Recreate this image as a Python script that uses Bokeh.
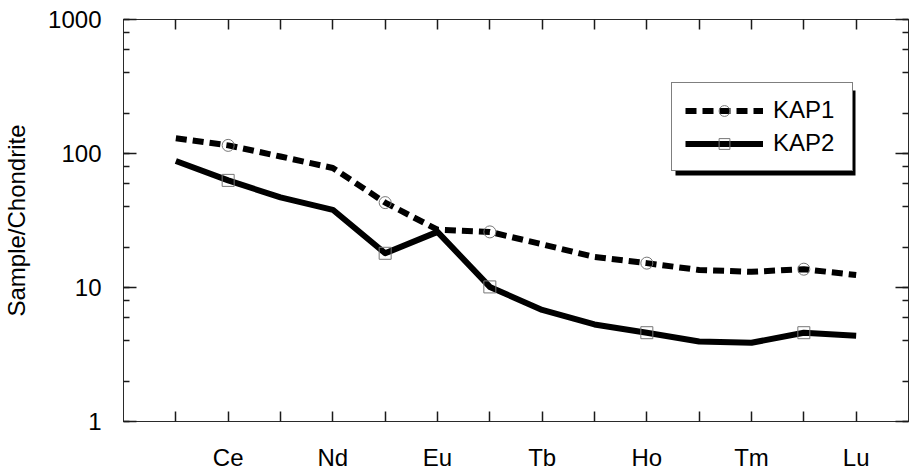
from bokeh.plotting import figure
from bokeh.models import (Range1d, FixedTicker, LogTicker, LinearAxis, LogAxis,
                          Legend, LegendItem, BasicTickFormatter, BoxAnnotation)
from bokeh.embed import file_html
from bokeh.resources import INLINE

# ---- data ----
elements = ["La", "Ce", "Pr", "Nd", "Sm", "Eu", "Gd", "Tb", "Dy", "Ho", "Er", "Tm", "Yb", "Lu"]
kap1 = [130, 115, 95, 78, 43, 27, 26, 21, 16.9, 15.2, 13.5, 13.1, 13.7, 12.4]
kap2 = [88, 63, 47, 38, 18, 26, 10.1, 6.8, 5.3, 4.6, 3.95, 3.87, 4.6, 4.37]
labeled = ["Ce", "Nd", "Eu", "Tb", "Ho", "Tm", "Lu"]
marker_elements = ["Ce", "Sm", "Gd", "Ho", "Yb"]
y_ticks = [1, 10, 100, 1000]

FONT = "Liberation Sans"
AX = "#2a2a2a"
TK = "#1a1a1a"

x = list(range(len(elements)))
mi = [elements.index(e) for e in marker_elements]
mx = [x[i] for i in mi]
m1 = [kap1[i] for i in mi]
m2 = [kap2[i] for i in mi]

p = figure(width=915, height=473, y_axis_type="log",
           x_range=Range1d(-1, len(elements)), y_range=Range1d(1, 1000),
           output_backend="svg", toolbar_location=None,
           min_border_left=123, min_border_right=7, min_border_top=19,
           min_border_bottom=51)
p.xgrid.visible = False
p.ygrid.visible = False
p.outline_line_color = AX
p.background_fill_color = "white"

# bottom axis
xa = p.xaxis[0]
xa.ticker = FixedTicker(ticks=x)
xa.major_label_overrides = {i: (e if e in labeled else "") for i, e in enumerate(elements)}
xa.major_tick_in = 10
xa.major_tick_out = 0
xa.minor_tick_in = 0
xa.minor_tick_out = 0
xa.axis_line_color = AX
xa.major_tick_line_color = TK
xa.major_tick_line_width = 1.5
xa.major_label_text_font = FONT
xa.major_label_text_font_size = "24px"
xa.major_label_text_color = "black"
xa.major_label_standoff = 22

# left axis
ya = p.yaxis[0]
ya.ticker = LogTicker()
ya.formatter = BasicTickFormatter(use_scientific=False)
ya.major_label_overrides = {v: str(v) for v in y_ticks}
ya.major_tick_in = 13
ya.major_tick_out = 0
ya.minor_tick_in = 6
ya.minor_tick_out = 0
ya.axis_line_color = AX
ya.major_tick_line_color = TK
ya.minor_tick_line_color = TK
ya.major_tick_line_width = 1.5
ya.minor_tick_line_width = 1.5
ya.major_label_text_font = FONT
ya.major_label_text_font_size = "24px"
ya.major_label_text_color = "black"
ya.major_label_standoff = 22
ya.axis_label = "Sample/Chondrite"
ya.axis_label_text_font = FONT
ya.axis_label_text_font_size = "24px"
ya.axis_label_text_font_style = "normal"
ya.axis_label_text_color = "black"
ya.axis_label_standoff = 15

# top axis (ticks only)
top = LinearAxis(ticker=FixedTicker(ticks=x),
                 major_label_overrides={i: "" for i in x},
                 major_label_text_font_size="0px", major_label_standoff=0,
                 major_tick_in=10, major_tick_out=0, minor_tick_in=0, minor_tick_out=0,
                 axis_line_color=AX, major_tick_line_color=TK, major_tick_line_width=1.5)
p.add_layout(top, "above")

# right axis (ticks only)
right = LogAxis(ticker=LogTicker(),
                major_label_overrides={v: "" for v in y_ticks},
                major_label_text_font_size="0px", major_label_standoff=0,
                major_tick_in=13, major_tick_out=0, minor_tick_in=6, minor_tick_out=0,
                axis_line_color=AX, major_tick_line_color=TK, minor_tick_line_color=TK,
                major_tick_line_width=1.5, minor_tick_line_width=1.5)
p.add_layout(right, "right")

# series
l1 = p.line(x, kap1, line_width=6, line_dash="11 6", color="black")
l2 = p.line(x, kap2, line_width=6, color="black", line_join="round")
c1 = p.scatter(mx, m1, marker="circle", size=12, fill_color=None,
               line_color="#777777", line_width=1)
s2 = p.scatter(mx, m2, marker="square", size=12, fill_color=None,
               line_color="#777777", line_width=1)

items = [LegendItem(label="KAP1", renderers=[l1, c1]),
         LegendItem(label="KAP2", renderers=[l2, s2])]

# legend geometry (screen px, relative to the frame's bottom-left)
LX, LY = 548, 250
PAD, GW, GH, STAND, LW, SP = 13, 78, 27, 10, 66, 5
LEG_W = 2 * PAD + GW + STAND + LW
LEG_H = 2 * PAD + 2 * GH + SP
SH = 4

shadow = BoxAnnotation(left=LX + SH, right=LX + LEG_W + SH,
                       bottom=LY - SH, top=LY + LEG_H - SH,
                       left_units="screen", right_units="screen",
                       top_units="screen", bottom_units="screen",
                       fill_color="black", fill_alpha=1.0, line_color=None)
p.add_layout(shadow)

leg = Legend(items=items, location=(LX, LY),
             label_text_font=FONT, label_text_font_size="24px",
             glyph_width=GW, glyph_height=GH, label_height=GH, label_width=LW,
             spacing=SP, padding=PAD, label_standoff=STAND, margin=0,
             background_fill_color="white", background_fill_alpha=1.0,
             border_line_color="black", border_line_width=1.5,
             label_text_color="black")
p.add_layout(leg)

open("out.html", "w").write(file_html(p, INLINE))
